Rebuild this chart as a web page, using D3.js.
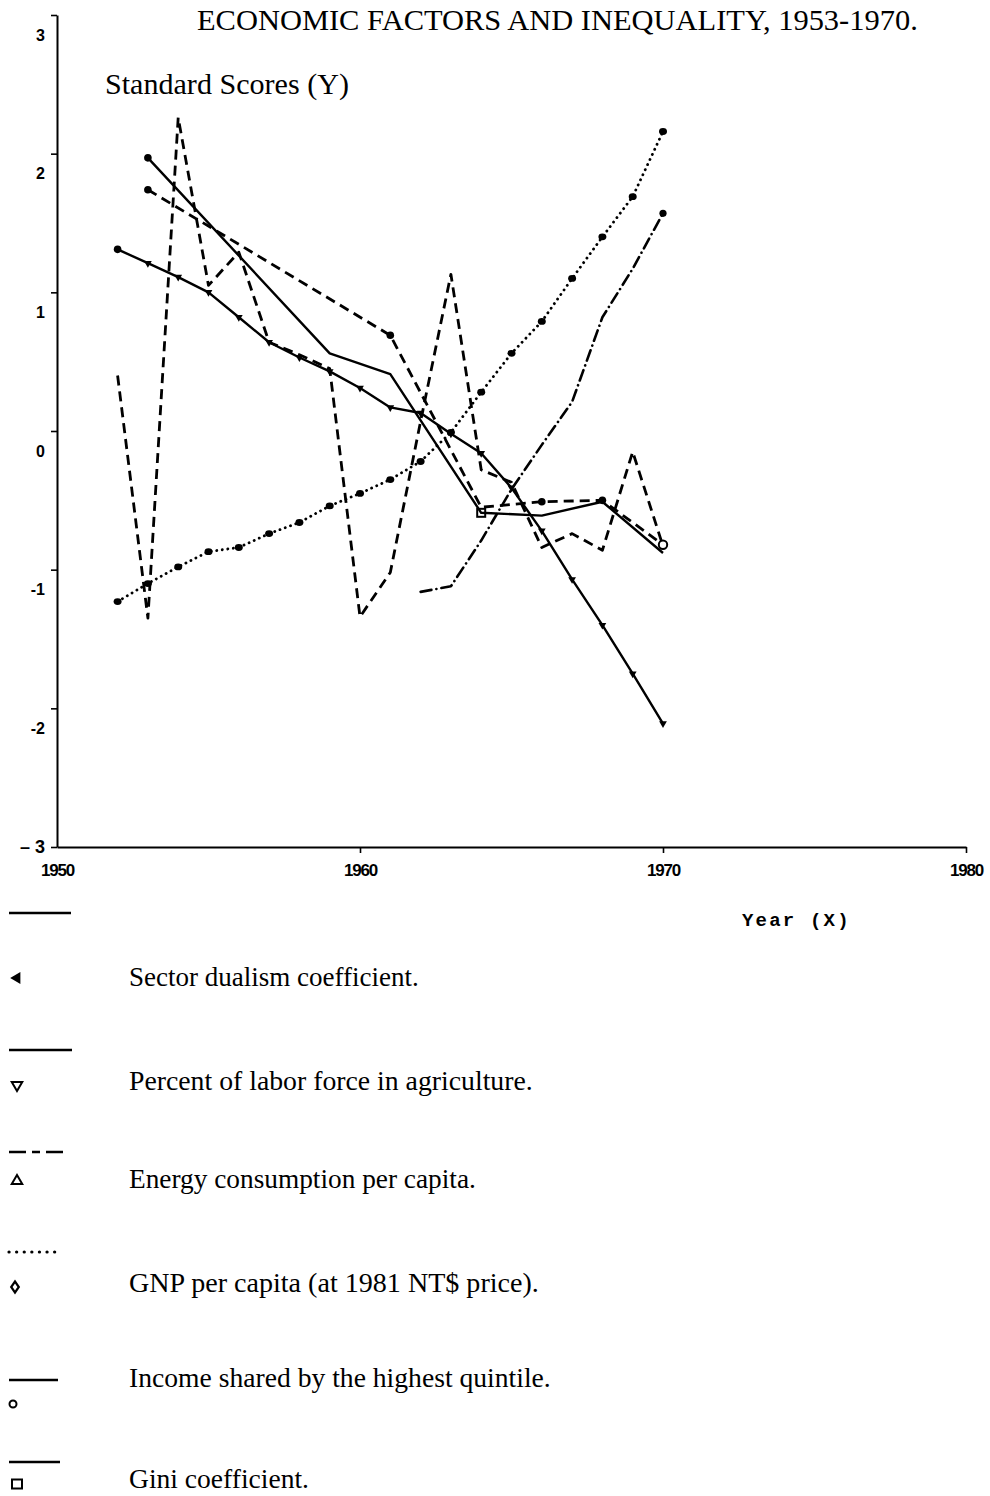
<!DOCTYPE html>
<html lang="en">
<head>
<meta charset="UTF-8">
<title>Economic factors and inequality, 1953-1970</title>
<script src="https://d3js.org/d3.v7.min.js"></script>
<style>
  body { margin: 0; background: #fff; }
</style>
</head>
<body>
<div id="chart"></div>
<script>
// values (standard scores)
const years = [1952, 1953, 1954, 1955, 1956, 1957, 1958, 1959, 1960, 1961,
               1962, 1963, 1964, 1965, 1966, 1967, 1968, 1969, 1970];
const gnpPerCapita = [-1.23, -1.10, -0.98, -0.87, -0.84, -0.74, -0.66, -0.54, -0.45, -0.35,
                      -0.22, -0.01, 0.28, 0.56, 0.79, 1.10, 1.40, 1.69, 2.16];
const laborInAgriculture = [1.31, 1.21, 1.11, 1.00, 0.82, 0.64, 0.53, 0.43, 0.31, 0.17,
                            0.13, -0.02, -0.16, -0.41, -0.72, -1.07, -1.40, -1.75, -2.11];
const sectorDualism = [0.40, -1.35, 2.26, 1.05, 1.29, 0.64, 0.55, 0.45, -1.34, -1.02,
                       0.07, 1.13, -0.28, -0.37, -0.84, -0.74, -0.86, -0.15, -0.83];
const energyYears = [1962, 1963, 1964, 1965, 1966, 1967, 1968, 1969, 1970];
const energyPerCapita = [-1.16, -1.12, -0.79, -0.42, -0.10, 0.21, 0.82, 1.17, 1.57];
const giniYears = [1953, 1959, 1961, 1964, 1966, 1968, 1970];
const giniCoefficient = [1.97, 0.56, 0.41, -0.59, -0.61, -0.51, -0.88];
const incomeYears = [1953, 1961, 1964, 1966, 1968, 1970];
const topQuintileShare = [1.74, 0.69, -0.55, -0.51, -0.50, -0.82];

const xTicks = [1950, 1960, 1970, 1980];
const yTicks = [-3, -2, -1, 0, 1, 2, 3];

const legendLabels = [
    "Sector dualism coefficient.",
    "Percent of labor force in agriculture.",
    "Energy consumption per capita.",
    "GNP per capita (at 1981 NT$ price).",
    "Income shared by the highest quintile.",
    "Gini coefficient."
];

const W = 990, H = 1496;
const serif = "'Liberation Serif', 'DejaVu Serif', serif";
const sans = "'Liberation Sans', Arial, sans-serif";

const svg = d3.select('#chart')
    .append('svg')
    .attr('width', W)
    .attr('height', H)
    .style('background', '#fff');

const x = d3.scaleLinear().domain([1950, 1980]).range([57, 966]);
const y = d3.scaleLinear().domain([-3, 3]).range([847, 15]);

// scale a text so it spans the width seen in the scan
function fit(sel, width) {
    const len = sel.node().getComputedTextLength();
    sel.attr('font-size', +sel.attr('font-size') * width / len);
}

// Y axis
const yAxis = svg.append('g')
    .attr('transform', `translate(${x(1950)},0)`)
    .call(d3.axisLeft(y).tickValues(yTicks).tickSize(6).tickSizeOuter(0).tickPadding(6)
        .tickFormat(d => d === -3 ? '\u2013 3' : (d < 0 ? '-' + Math.abs(d) : d)));
yAxis.select('.domain').attr('stroke', '#000').attr('stroke-width', 2);
yAxis.selectAll('.tick line').attr('stroke', '#000').attr('stroke-width', 1.6);
yAxis.selectAll('.tick text')
    .attr('font-family', sans)
    .attr('font-weight', 'bold')
    .attr('font-size', d => d === -3 ? 18 : 16)
    .attr('fill', '#000')
    .attr('y', d => d === -3 ? 0 : 20);

// X axis
const xAxis = svg.append('g')
    .attr('transform', `translate(0,${y(-3)})`)
    .call(d3.axisBottom(x).tickValues(xTicks).tickSize(6).tickSizeOuter(0).tickPadding(11)
        .tickFormat(d3.format('d')));
xAxis.select('.domain').attr('stroke', '#000').attr('stroke-width', 2);
xAxis.selectAll('.tick line').attr('stroke', '#000').attr('stroke-width', 1.6)
    .attr('opacity', d => d === 1950 ? 0 : 1);
xAxis.selectAll('.tick text')
    .attr('font-family', sans)
    .attr('font-weight', 'bold')
    .attr('font-size', 17)
    .attr('letter-spacing', -1.2)
    .attr('fill', '#000');

svg.append('text')
    .attr('x', 742).attr('y', 926)
    .attr('font-family', "'Liberation Mono', 'DejaVu Sans Mono', monospace")
    .attr('font-weight', 'bold')
    .attr('font-size', 19)
    .attr('letter-spacing', 2.2)
    .text('Year (X)');

// titles
const title = svg.append('text')
    .attr('x', 197).attr('y', 30)
    .attr('font-family', serif)
    .attr('font-size', 22)
    .text('ECONOMIC FACTORS AND INEQUALITY, 1953-1970.');
fit(title, 721);

const yTitle = svg.append('text')
    .attr('x', 105).attr('y', 94)
    .attr('font-family', serif)
    .attr('font-size', 20)
    .text('Standard Scores (Y)');
fit(yTitle, 244);

// series
const line = d3.line().x(d => x(d[0])).y(d => y(d[1]));
const pairs = (xs, vs) => xs.map((t, i) => [t, vs[i]]);

const series = [
    {data: pairs(years, gnpPerCapita), dash: '0.1,5.5', width: 2.8, cap: 'round'},
    {data: pairs(energyYears, energyPerCapita), dash: '11,5,0.1,5', width: 2.6, cap: 'round'},
    {data: pairs(years, sectorDualism), dash: '10,6', width: 2.8, cap: 'butt'},
    {data: pairs(incomeYears, topQuintileShare), dash: '10,6', width: 2.8, cap: 'butt'},
    {data: pairs(giniYears, giniCoefficient), dash: null, width: 2.4, cap: 'butt'},
    {data: pairs(years, laborInAgriculture), dash: null, width: 2.4, cap: 'butt'}
];

series.forEach(s => {
    svg.append('path')
        .datum(s.data)
        .attr('fill', 'none')
        .attr('stroke', '#000')
        .attr('stroke-width', s.width)
        .attr('stroke-linecap', s.cap)
        .attr('stroke-linejoin', 'round')
        .attr('stroke-dasharray', s.dash)
        .attr('d', line);
});

// markers: big dots on GNP, small ones elsewhere
svg.append('g').selectAll('ellipse')
    .data(series[0].data)
    .join('ellipse')
    .attr('cx', d => x(d[0])).attr('cy', d => y(d[1]))
    .attr('rx', 4).attr('ry', 3.4)
    .attr('fill', '#000');

const dot = (d, r) => svg.append('circle')
    .attr('cx', x(d[0])).attr('cy', y(d[1])).attr('r', r).attr('fill', '#000');
dot(series[3].data[0], 3.8);
dot(series[3].data[1], 3.8);
dot(series[3].data[3], 3.8);
dot(series[3].data[4], 3.8);
dot(series[4].data[0], 3.8);
dot(series[5].data[0], 3.8);
dot(series[1].data[series[1].data.length - 1], 3.6);

// small triangles along labour force line
const tri = d3.symbol().type(d3.symbolTriangle).size(26);
svg.append('g').selectAll('path')
    .data(series[5].data.slice(1))
    .join('path')
    .attr('d', tri)
    .attr('transform', d => `translate(${x(d[0])},${y(d[1])}) rotate(180)`)
    .attr('fill', '#000');

// open circle at end of income share, open square on gini 1964
const lastIncome = series[3].data[series[3].data.length - 1];
svg.append('circle')
    .attr('cx', x(lastIncome[0])).attr('cy', y(lastIncome[1])).attr('r', 4.2)
    .attr('fill', '#fff').attr('stroke', '#000').attr('stroke-width', 2);
const gini64 = series[4].data[3];
svg.append('rect')
    .attr('x', x(gini64[0]) - 4).attr('y', y(gini64[1]) - 4)
    .attr('width', 8).attr('height', 8)
    .attr('fill', 'none').attr('stroke', '#000').attr('stroke-width', 2);

// legend
const legendLines = [
    {y: 913, x2: 71, dash: null},
    {y: 1050, x2: 72, dash: null},
    {y: 1152, x2: 68, dash: '17,6,8,6'},
    {y: 1252, x2: 62, dash: '0.1,7.5'},
    {y: 1380, x2: 58, dash: null},
    {y: 1462, x2: 60, dash: null}
];
const legendText = [986, 1090, 1188, 1292, 1387, 1488];
const legendWidth = [290, 404, 347, 410, 422, null];
const legendMark = [978, 1085, 1181, 1287, 1404, 1484];

const lg = svg.append('g');
const sizes = [];
legendLines.forEach((l, i) => {
    const dotted = l.dash === '0.1,7.5';
    lg.append('line')
        .attr('x1', 9).attr('x2', l.x2)
        .attr('y1', l.y).attr('y2', l.y)
        .attr('stroke', '#000')
        .attr('stroke-width', dotted ? 3.2 : 2.4)
        .attr('stroke-linecap', dotted ? 'round' : 'butt')
        .attr('stroke-dasharray', l.dash);
    const t = lg.append('text')
        .attr('x', 129).attr('y', legendText[i])
        .attr('font-family', serif)
        .attr('font-size', 24)
        .text(legendLabels[i]);
    if (legendWidth[i]) {
        fit(t, legendWidth[i]);
        sizes.push(+t.attr('font-size'));
    } else {
        t.attr('font-size', d3.mean(sizes));
    }
});

const mk = lg.append('g').attr('fill', 'none').attr('stroke', '#000').attr('stroke-width', 2);
mk.append('path').attr('d', d3.symbol().type(d3.symbolTriangle).size(60))
    .attr('transform', `translate(17,${legendMark[0]}) rotate(-90)`)
    .attr('fill', '#000').attr('stroke', 'none');
mk.append('path').attr('d', d3.symbol().type(d3.symbolTriangle).size(48))
    .attr('transform', `translate(17,${legendMark[1]}) rotate(180)`);
mk.append('path').attr('d', d3.symbol().type(d3.symbolTriangle).size(48))
    .attr('transform', `translate(17,${legendMark[2]})`);
mk.append('path').attr('d', d3.symbol().type(d3.symbolDiamond).size(34))
    .attr('transform', `translate(15,${legendMark[3]}) scale(1.2,1)`);
mk.append('circle').attr('cx', 13).attr('cy', legendMark[4]).attr('r', 3.5);
mk.append('rect').attr('x', 12).attr('y', legendMark[5] - 4.5).attr('width', 10).attr('height', 9);
</script>
</body>
</html>
